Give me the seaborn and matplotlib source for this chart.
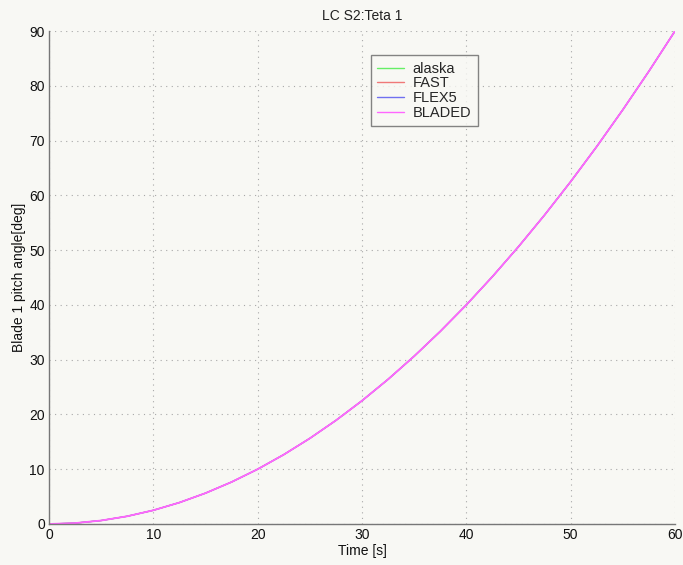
import numpy as np
import pandas as pd
import matplotlib
matplotlib.use("Agg")
import matplotlib.pyplot as plt
import seaborn as sns

# Simulation time [s]
time_s = [0, 2.5, 5, 7.5, 10, 12.5, 15, 17.5, 20, 22.5, 25, 27.5, 30,
          32.5, 35, 37.5, 40, 42.5, 45, 47.5, 50, 52.5, 55, 57.5, 60]

# Blade 1 pitch angle [deg] per code
pitch_alaska = [0, 0.16, 0.63, 1.41, 2.5, 3.91, 5.63, 7.66, 10.0, 12.66, 15.63, 18.91, 22.5,
                26.41, 30.63, 35.16, 40.0, 45.16, 50.63, 56.41, 62.5, 68.91, 75.63, 82.66, 90.0]
pitch_fast = [0, 0.16, 0.63, 1.41, 2.5, 3.91, 5.63, 7.66, 10.0, 12.66, 15.63, 18.91, 22.5,
              26.41, 30.63, 35.16, 40.0, 45.16, 50.63, 56.41, 62.5, 68.91, 75.63, 82.66, 90.0]
pitch_flex5 = [0, 0.16, 0.63, 1.41, 2.5, 3.91, 5.63, 7.66, 10.0, 12.66, 15.63, 18.91, 22.5,
               26.41, 30.63, 35.16, 40.0, 45.16, 50.63, 56.41, 62.5, 68.91, 75.63, 82.66, 90.0]
pitch_bladed = [0, 0.16, 0.63, 1.41, 2.5, 3.91, 5.63, 7.66, 10.0, 12.66, 15.63, 18.91, 22.5,
                26.41, 30.63, 35.16, 40.0, 45.16, 50.63, 56.41, 62.5, 68.91, 75.63, 82.66, 90.0]

codes = ["alaska", "FAST", "FLEX5", "BLADED"]
series = [pitch_alaska, pitch_fast, pitch_flex5, pitch_bladed]
colors = ["#66ee66", "#f07878", "#7070f0", "#ff66ff"]
widths = [0.9, 0.9, 0.9, 1.3]

frames = []
for name, vals in zip(codes, series):
    frames.append(pd.DataFrame({"Time": time_s, "Pitch": vals, "Code": name}))
df = pd.concat(frames, ignore_index=True)

sns.set_style("white")
plt.rcParams["font.family"] = ["Liberation Sans", "DejaVu Sans"]

bg = "#f8f8f4"
fig = plt.figure(figsize=(6.83, 5.65), dpi=100, facecolor=bg)
ax = fig.add_axes([0.0717, 0.0726, 0.9166, 0.8725])
ax.set_facecolor(bg)

sns.lineplot(data=df, x="Time", y="Pitch", hue="Code", hue_order=codes,
             palette=dict(zip(codes, colors)), linewidth=1.0, ax=ax,
             estimator=None, sort=False)
for line, w in zip(ax.get_lines(), widths):
    line.set_linewidth(w)

ax.set_xlim(0, 60)
ax.set_ylim(0, 90)
ax.set_xticks(np.arange(0, 61, 10))
ax.set_yticks(np.arange(0, 91, 10))
ax.grid(True, linestyle=(0, (1, 4)), color="#a8a8a8", linewidth=0.8)

for side in ["top", "right"]:
    ax.spines[side].set_visible(False)
for side in ["left", "bottom"]:
    ax.spines[side].set_color("#777777")
    ax.spines[side].set_linewidth(1.0)

ax.tick_params(direction="in", length=4, color="#777777", labelsize=10,
               labelcolor="#111111", pad=3)

ax.set_xlabel("Time [s]", fontsize=10, color="#111111", labelpad=1)
ax.set_ylabel("Blade 1 pitch angle[deg]", fontsize=10, color="#111111", labelpad=2)
ax.set_title("LC S2:Teta 1", fontsize=10, color="#222222", pad=8)

leg = ax.legend(loc="upper left", bbox_to_anchor=(0.514, 0.951), frameon=True,
                fancybox=False, fontsize=10.5, handlelength=1.85, borderpad=0.45,
                labelspacing=0.05, handletextpad=0.55, borderaxespad=0.0)
leg.get_frame().set_edgecolor("#666666")
leg.get_frame().set_linewidth(1.0)
leg.get_frame().set_facecolor(bg)
for lh, c in zip(leg.get_lines(), colors):
    lh.set_linewidth(1.0)

fig.savefig("out.png", dpi=100, facecolor=bg)
